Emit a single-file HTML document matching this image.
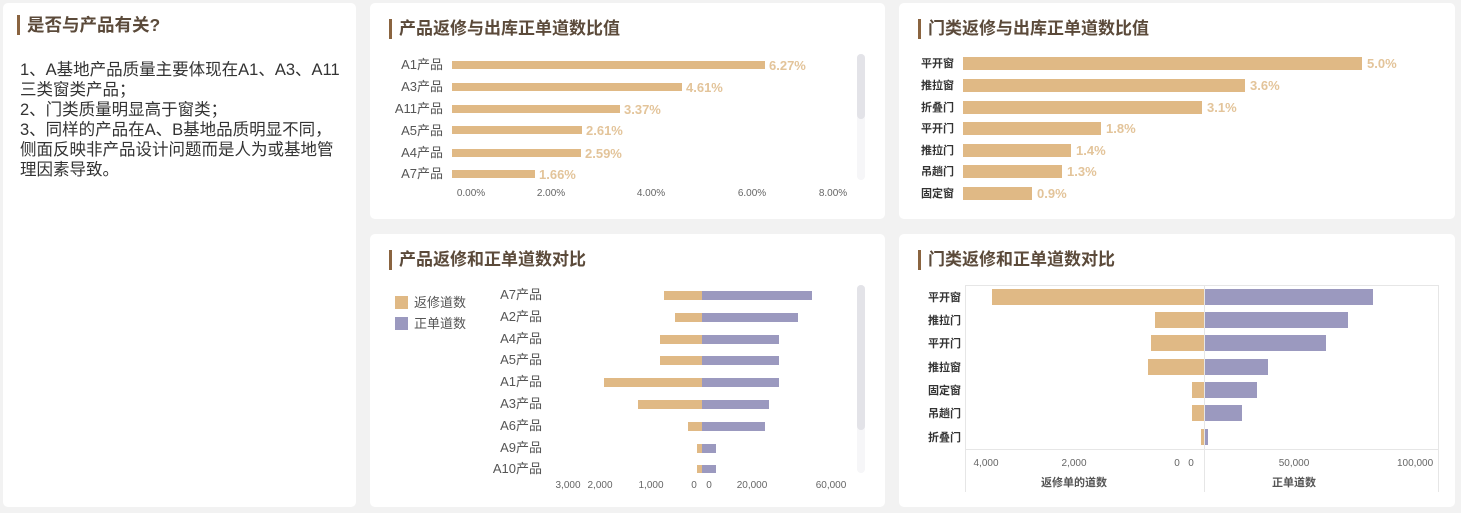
<!DOCTYPE html><html><head><meta charset="utf-8"><style>
body{margin:0;width:1461px;height:513px;background:#f2f2f2;font-family:"Liberation Sans","Noto Sans CJK SC",sans-serif;position:relative;overflow:hidden}
.p{position:absolute;background:#fff;border-radius:5px}
.t{position:absolute;font-size:17px;font-weight:bold;color:#5b4a3a;border-left:3px solid #8a6440;padding-left:7px;line-height:20px}
svg{position:absolute;left:0;top:0}
</style></head><body>
<div class="p" style="left:3px;top:3px;width:353px;height:504px">
<div class="t" style="left:14px;top:12px;font-size:17.5px">是否与产品有关?</div>
<div style="position:absolute;left:17px;top:57px;font-size:16.5px;color:#333;line-height:20px;white-space:nowrap">1、A基地产品质量主要体现在A1、A3、A11<br>三类窗类产品；<br>2、门类质量明显高于窗类；<br>3、同样的产品在A、B基地品质明显不同，<br>侧面反映非产品设计问题而是人为或基地管<br>理因素导致。</div></div>
<div class="p" style="left:370px;top:3px;width:515px;height:216px"><div class="t" style="left:19px;top:16px">产品返修与出库正单道数比值</div></div>
<div class="p" style="left:899px;top:3px;width:556px;height:216px"><div class="t" style="left:19px;top:16px">门类返修与出库正单道数比值</div></div>
<div class="p" style="left:370px;top:234px;width:515px;height:273px"><div class="t" style="left:19px;top:16px">产品返修和正单道数对比</div></div>
<div class="p" style="left:899px;top:234px;width:556px;height:273px"><div class="t" style="left:19px;top:16px">门类返修和正单道数对比</div></div>
<svg width="1461" height="513" font-family="Liberation Sans,Noto Sans CJK SC,sans-serif">
<g fill="#e0b985">
<rect x="452" y="61" width="313" height="8"/><rect x="452" y="83" width="230" height="8"/><rect x="452" y="105" width="168" height="8"/><rect x="452" y="126" width="130" height="8"/><rect x="452" y="149" width="129" height="8"/><rect x="452" y="170" width="83" height="8"/>
</g>
<g font-size="13" fill="#555" text-anchor="end"><text x="443" y="69">A1产品</text><text x="443" y="91">A3产品</text><text x="443" y="113">A11产品</text><text x="443" y="135">A5产品</text><text x="443" y="157">A4产品</text><text x="443" y="178">A7产品</text></g>
<g font-size="13" fill="#e3c49a" font-weight="bold"><text x="769" y="70">6.27%</text><text x="686" y="92">4.61%</text><text x="624" y="114">3.37%</text><text x="586" y="135">2.61%</text><text x="585" y="158">2.59%</text><text x="539" y="179">1.66%</text></g>
<g font-size="10" fill="#666" text-anchor="middle"><text x="471" y="196">0.00%</text><text x="551" y="196">2.00%</text><text x="651" y="196">4.00%</text><text x="752" y="196">6.00%</text><text x="833" y="196">8.00%</text></g>
<rect x="857" y="54" width="8" height="126" rx="4" fill="#f6f6f8"/><rect x="857" y="54" width="8" height="65" rx="4" fill="#e3e3e8"/>
<g fill="#e0b985"><rect x="963" y="57" width="399" height="13"/><rect x="963" y="79" width="282" height="13"/><rect x="963" y="101" width="239" height="13"/><rect x="963" y="122" width="138" height="13"/><rect x="963" y="144" width="108" height="13"/><rect x="963" y="165" width="99" height="13"/><rect x="963" y="187" width="69" height="13"/></g>
<g font-size="11" fill="#333" font-weight="bold" text-anchor="end"><text x="954" y="67">平开窗</text><text x="954" y="89">推拉窗</text><text x="954" y="111">折叠门</text><text x="954" y="132">平开门</text><text x="954" y="154">推拉门</text><text x="954" y="175">吊趟门</text><text x="954" y="197">固定窗</text></g>
<g font-size="13" fill="#e3c49a" font-weight="bold"><text x="1367" y="68">5.0%</text><text x="1250" y="90">3.6%</text><text x="1207" y="112">3.1%</text><text x="1106" y="133">1.8%</text><text x="1076" y="155">1.4%</text><text x="1067" y="176">1.3%</text><text x="1037" y="198">0.9%</text></g>
<rect x="395" y="296" width="13" height="13" fill="#e0b985"/><rect x="395" y="317" width="13" height="13" fill="#9b99bf"/>
<g font-size="13" fill="#555"><text x="414" y="307">返修道数</text><text x="414" y="328">正单道数</text></g>
<g font-size="13" fill="#555" text-anchor="end"><text x="542" y="299">A7产品</text><text x="542" y="321">A2产品</text><text x="542" y="343">A4产品</text><text x="542" y="364">A5产品</text><text x="542" y="386">A1产品</text><text x="542" y="408">A3产品</text><text x="542" y="430">A6产品</text><text x="542" y="452">A9产品</text><text x="542" y="473">A10产品</text></g>
<g fill="#e0b985"><rect x="664" y="291" width="38" height="9"/><rect x="675" y="313" width="27" height="9"/><rect x="660" y="335" width="42" height="9"/><rect x="660" y="356" width="42" height="9"/><rect x="604" y="378" width="98" height="9"/><rect x="638" y="400" width="64" height="9"/><rect x="688" y="422" width="14" height="9"/><rect x="697" y="444" width="5" height="9"/><rect x="697" y="465" width="5" height="8"/></g>
<g fill="#9b99bf"><rect x="702" y="291" width="110" height="9"/><rect x="702" y="313" width="96" height="9"/><rect x="702" y="335" width="77" height="9"/><rect x="702" y="356" width="77" height="9"/><rect x="702" y="378" width="77" height="9"/><rect x="702" y="400" width="67" height="9"/><rect x="702" y="422" width="63" height="9"/><rect x="702" y="444" width="14" height="9"/><rect x="702" y="465" width="14" height="8"/></g>
<g font-size="10" fill="#666" text-anchor="middle"><text x="568" y="488">3,000</text><text x="600" y="488">2,000</text><text x="651" y="488">1,000</text><text x="694" y="488">0</text><text x="709" y="488">0</text><text x="752" y="488">20,000</text><text x="831" y="488">60,000</text></g>
<rect x="857" y="285" width="8" height="188" rx="4" fill="#f6f6f8"/><rect x="857" y="285" width="8" height="145" rx="4" fill="#e3e3e8"/>
<g stroke="#e6e6e6" fill="none"><rect x="965.5" y="285.5" width="473" height="164"/><line x1="965.5" y1="449" x2="965.5" y2="492"/><line x1="1438.5" y1="449" x2="1438.5" y2="492"/><line x1="1204.5" y1="285" x2="1204.5" y2="492"/></g>
<g fill="#e0b985"><rect x="992" y="289" width="212" height="16"/><rect x="1155" y="312" width="49" height="16"/><rect x="1151" y="335" width="53" height="16"/><rect x="1148" y="359" width="56" height="16"/><rect x="1192" y="382" width="12" height="16"/><rect x="1192" y="405" width="12" height="16"/><rect x="1201" y="429" width="3" height="16"/></g>
<g fill="#9b99bf"><rect x="1205" y="289" width="168" height="16"/><rect x="1205" y="312" width="143" height="16"/><rect x="1205" y="335" width="121" height="16"/><rect x="1205" y="359" width="63" height="16"/><rect x="1205" y="382" width="52" height="16"/><rect x="1205" y="405" width="37" height="16"/><rect x="1205" y="429" width="3" height="16"/></g>
<g font-size="11" fill="#333" font-weight="bold" text-anchor="end"><text x="961" y="301">平开窗</text><text x="961" y="324">推拉门</text><text x="961" y="347">平开门</text><text x="961" y="371">推拉窗</text><text x="961" y="394">固定窗</text><text x="961" y="417">吊趟门</text><text x="961" y="441">折叠门</text></g>
<g font-size="10" fill="#666" text-anchor="middle"><text x="986" y="466">4,000</text><text x="1074" y="466">2,000</text><text x="1177" y="466">0</text><text x="1191" y="466">0</text><text x="1294" y="466">50,000</text></g>
<text x="1397" y="466" font-size="10" fill="#666">100,000</text>
<g font-size="11" fill="#555" font-weight="bold" text-anchor="middle"><text x="1074" y="486">返修单的道数</text><text x="1294" y="486">正单道数</text></g>
</svg></body></html>
